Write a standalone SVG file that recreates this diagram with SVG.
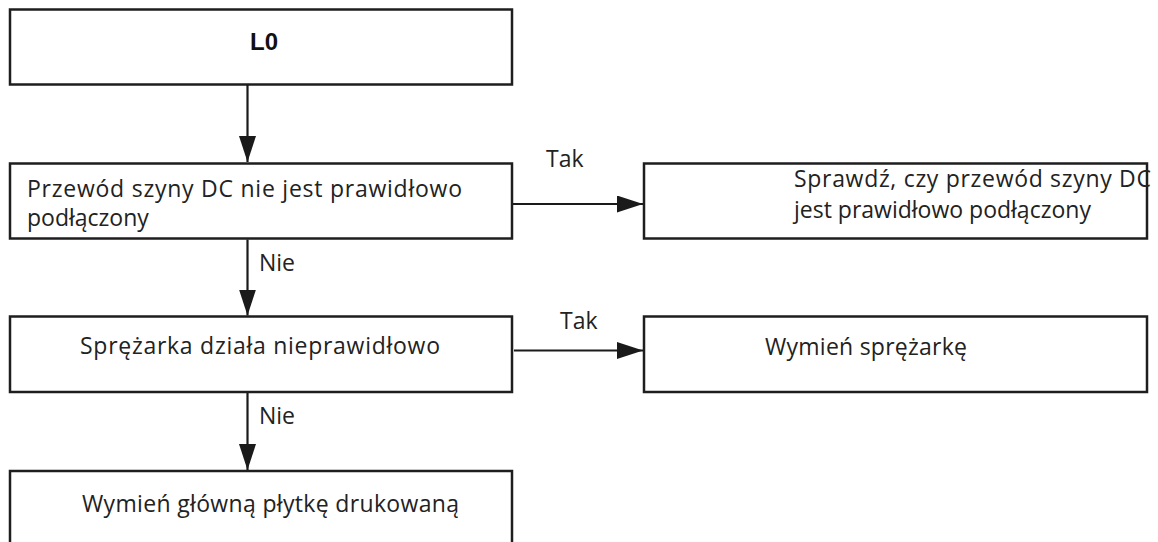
<svg xmlns="http://www.w3.org/2000/svg" width="1158" height="542" viewBox="0 0 1158 542">
  <style>
    .box { fill: #ffffff; stroke: #1e1e1e; stroke-width: 2.5; }
    .txt { font-family: "Open Sans", "Noto Sans", "Liberation Sans", sans-serif; font-size: 23px; fill: #222222; }
    .title { font-family: "Liberation Sans", Arial, sans-serif; font-size: 24px; font-weight: bold; fill: #111111; }
    .edge { stroke: #1a1a1a; stroke-width: 2.2; fill: none; marker-end: url(#arrow); }
    .lbl { font-family: "Open Sans", "Noto Sans", "Liberation Sans", sans-serif; font-size: 23px; fill: #222222; }
  </style>
  <defs>
    <marker id="arrow" markerUnits="userSpaceOnUse" viewBox="0 0 26 17" refX="26" refY="8.5" markerWidth="26" markerHeight="17" orient="auto">
      <path d="M0,0 L26,8.5 L0,17 Z" fill="#1a1a1a"/>
    </marker>
  </defs>

  <rect width="1158" height="542" fill="#ffffff"/>

  <g id="node-l0">
    <rect class="box" x="10" y="9.5" width="502" height="75"/>
    <text class="title" x="264" y="50" text-anchor="middle">L0</text>
  </g>

  <g id="node-dc-bus">
    <rect class="box" x="10" y="163.5" width="502" height="75"/>
    <text class="txt" x="27" y="197" textLength="435">Przewód szyny DC nie jest prawidłowo</text>
    <text class="txt" x="27" y="226">podłączony</text>
  </g>

  <g id="node-check-dc">
    <rect class="box" x="644" y="163.5" width="503" height="75"/>
    <text class="txt" x="794" y="187" textLength="357">Sprawdź, czy przewód szyny DC</text>
    <text class="txt" x="794" y="218">jest prawidłowo podłączony</text>
  </g>

  <g id="node-compressor">
    <rect class="box" x="10" y="316.5" width="502" height="75.5"/>
    <text class="txt" x="80" y="354" textLength="360">Sprężarka działa nieprawidłowo</text>
  </g>

  <g id="node-replace-compressor">
    <rect class="box" x="644" y="316.5" width="503" height="75.5"/>
    <text class="txt" x="765" y="355" textLength="202">Wymień sprężarkę</text>
  </g>

  <g id="node-replace-pcb">
    <rect class="box" x="10" y="471" width="502" height="90"/>
    <text class="txt" x="82" y="512" textLength="377">Wymień główną płytkę drukowaną</text>
  </g>

  <g id="connectors">
    <line class="edge" x1="247.5" y1="85" x2="247.5" y2="162"/>
    <line class="edge" x1="513" y1="204" x2="643" y2="204"/>
    <line class="edge" x1="247.5" y1="239.5" x2="247.5" y2="315.5"/>
    <line class="edge" x1="514" y1="350.5" x2="643" y2="350.5"/>
    <line class="edge" x1="247.5" y1="393" x2="247.5" y2="470"/>
    <text class="lbl" x="546" y="167">Tak</text>
    <text class="lbl" x="560" y="329">Tak</text>
    <text class="lbl" x="259" y="271">Nie</text>
    <text class="lbl" x="259" y="424">Nie</text>
  </g>
</svg>
